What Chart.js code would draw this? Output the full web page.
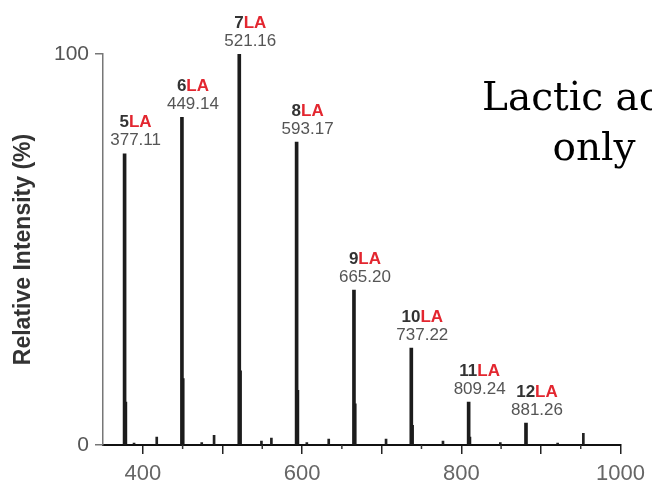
<!DOCTYPE html>
<html><head><meta charset="utf-8">
<script src="https://cdn.jsdelivr.net/npm/chart.js@4/dist/chart.umd.min.js"></script>
<style>html,body{margin:0;padding:0;background:#fff;} #wrap{width:652px;height:486px;position:relative;}</style>
</head><body><div id="wrap"><canvas id="c" width="652" height="486"></canvas></div>
<script>
// Main oligomer peaks (nLA)
const peakMz = [377.11, 449.14, 521.16, 593.17, 665.20, 737.22, 809.24, 881.26];
const peakIntensity = [74.5, 83.8, 100, 77.5, 39.6, 24.8, 11, 5.6];
const peakLabels = ['5', '6', '7', '8', '9', '10', '11', '12'];
// +1 isotope peaks
const isotopeMz = [378.11, 450.14, 522.16, 594.17, 666.20, 738.22, 810.24];
const isotopeIntensity = [11, 17, 19, 14, 10.5, 5, 2];
// small side peaks
const minorMz = [389, 417.5, 474, 489.5, 549, 561.5, 606, 633.5, 705.5, 777, 849, 921, 953.3];
const minorIntensity = [0.5, 2, 0.6, 2.5, 1, 1.8, 0.6, 1.5, 1.5, 1, 0.6, 0.5, 3];
// axis ticks
const xMajorTicks = [400, 500, 600, 700, 800, 900, 1000];
const xLabelTicks = [400, 600, 800, 1000];
const xMinorTicks = [450, 550, 650, 750, 850, 950];
const yTicks = [0, 100];
const annotationLines = ['Lactic acid', 'only'];

const SANS = '"Liberation Sans", Arial, Helvetica, sans-serif';

const extras = {
  id: 'extras',
  afterDatasetsDraw(chart) {
    const ctx = chart.ctx, xs = chart.scales.x, ys = chart.scales.y;
    // minor x ticks
    ctx.save();
    ctx.strokeStyle = '#333'; ctx.lineWidth = 1.5;
    const y0 = ys.getPixelForValue(0);
    xMinorTicks.forEach(v => {
      const px = xs.getPixelForValue(v);
      ctx.beginPath(); ctx.moveTo(px, y0); ctx.lineTo(px, y0 + 4); ctx.stroke();
    });
    ctx.restore();
    // peak labels
    peakMz.forEach((m, i) => {
      const px = xs.getPixelForValue(m) + 11;
      const py = ys.getPixelForValue(peakIntensity[i]);
      ctx.save();
      ctx.font = 'bold 17px ' + SANS;
      const n = peakLabels[i], la = 'LA';
      const wn = ctx.measureText(n).width, wl = ctx.measureText(la).width;
      const x0 = px - (wn + wl) / 2;
      ctx.textBaseline = 'middle'; ctx.textAlign = 'left';
      ctx.fillStyle = '#333'; ctx.fillText(n, x0, py - 31);
      ctx.fillStyle = '#e3262f'; ctx.fillText(la, x0 + wn, py - 31);
      ctx.font = '17px ' + SANS; ctx.textAlign = 'center'; ctx.fillStyle = '#555';
      ctx.fillText(m.toFixed(2), px, py - 13);
      ctx.restore();
    });
    // annotation
    ctx.save();
    ctx.font = '39px "DejaVu Serif", Georgia, serif';
    ctx.fillStyle = '#000'; ctx.textAlign = 'center'; ctx.textBaseline = 'alphabetic';
    ctx.fillText(annotationLines[0], 590, 110);
    ctx.fillText(annotationLines[1], 594, 160);
    ctx.restore();
  }
};

new Chart(document.getElementById('c'), {
  type: 'bar',
  data: {
    datasets: [
      { data: peakMz.map((x, i) => ({ x, y: peakIntensity[i] })), backgroundColor: '#1c1c1c', barThickness: 3, grouped: false },
      { data: isotopeMz.map((x, i) => ({ x, y: isotopeIntensity[i] })), backgroundColor: '#1c1c1c', barThickness: 3, grouped: false },
      { data: minorMz.map((x, i) => ({ x, y: minorIntensity[i] })), backgroundColor: '#222', barThickness: 2, grouped: false }
    ]
  },
  options: {
    responsive: false, animation: false, events: [],
    layout: { padding: { top: 54, right: 29, left: 0, bottom: 0 } },
    plugins: { legend: { display: false }, tooltip: { enabled: false } },
    scales: {
      x: {
        type: 'linear', min: 350, max: 1000, offset: false,
        afterBuildTicks: s => { s.ticks = xMajorTicks.map(v => ({ value: v })); },
        afterFit: s => { s.height = 41; },
        grid: { offset: false, drawOnChartArea: false, drawTicks: true, tickLength: 9, color: '#222', lineWidth: 1.5 },
        border: { display: true, color: '#111', width: 2 },
        ticks: { autoSkip: false, maxRotation: 0, padding: 7, color: '#666',
          font: { family: SANS, size: 22 },
          callback: v => xLabelTicks.includes(v) ? String(v) : '' }
      },
      y: {
        min: 0, max: 100,
        afterBuildTicks: s => { s.ticks = yTicks.map(v => ({ value: v })); },
        afterFit: s => { s.width = 103; },
        grid: { drawOnChartArea: false, drawTicks: true, tickLength: 8, color: '#777', lineWidth: 1.5 },
        border: { display: true, color: '#777', width: 1.5 },
        ticks: { padding: 6, color: '#555', font: { family: SANS, size: 21 } },
        title: { display: true, text: 'Relative Intensity (%)', color: '#333',
          font: { family: SANS, size: 23, weight: 'bold' }, padding: { top: 10, bottom: 0 } }
      }
    }
  },
  plugins: [extras]
});
</script>
</body></html>
